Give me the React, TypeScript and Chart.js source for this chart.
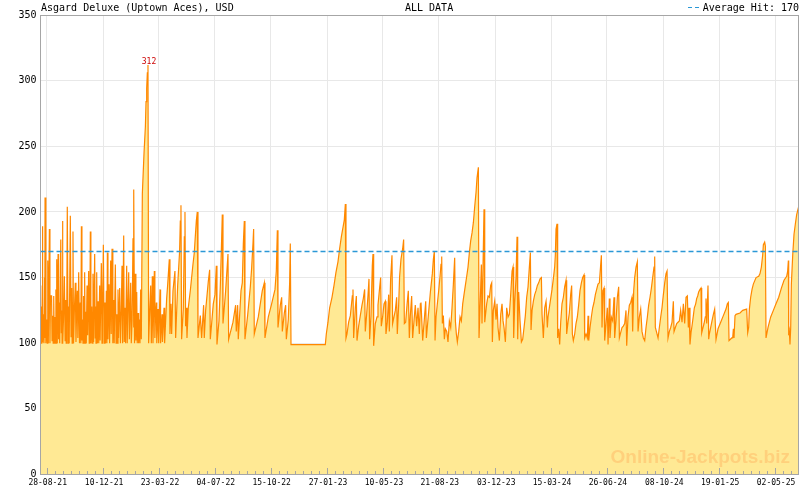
import React, { useEffect, useRef } from "react";
import { Chart, registerables } from "chart.js";

Chart.register(...registerables);

// ---- texts ----
const chartTitle = "Asgard Deluxe (Uptown Aces), USD";
const periodLabel = "ALL DATA";
const averageLabel = "Average Hit: ";
const averageHit = 170;
const watermark = "Online-Jackpots.biz";

// ---- axes ----
const xTickLabels = [
  "28-08-21", "10-12-21", "23-03-22", "04-07-22", "15-10-22", "27-01-23", "10-05-23",
  "21-08-23", "03-12-23", "15-03-24", "26-06-24", "08-10-24", "19-01-25", "02-05-25",
];
const X_MIN = -11.4; // days from 28-08-21
const X_MAX = 1387.2;
const Y_MIN = 0;
const Y_MAX = 350;
const Y_STEP = 50;

// ---- jackpot history: [days since 28-08-21, value USD] ----
const seriesPart1: [number, number][] = [
  [-11, 144], [-10, 100], [-9, 128], [-8.5, 101], [-8, 189], [-7, 101], [-6, 122], [-5, 100], [-4, 150], [-3.5, 104],
  [-3, 211], [-1.5, 100], [0, 118], [1, 100], [2, 163], [3, 100], [5, 187], [6, 100], [7, 136], [9, 136],
  [10, 102], [11, 121], [12, 100], [13, 136], [14, 100], [15, 120], [16, 100], [17, 141], [17.5, 100], [18.5, 164],
  [19.5, 100], [21, 168], [22, 103], [23, 131], [24, 100], [26, 179], [27, 108], [28, 125], [28.5, 100], [29, 193],
  [30, 100], [31, 118], [32.6, 151], [34, 102], [35, 133], [36, 100], [37, 119], [38, 204], [39.5, 100], [40.5, 128],
  [41.5, 100], [43.6, 197], [45, 105], [46, 142], [47, 100], [48.5, 185], [49.5, 100], [51, 124], [52.8, 146], [54, 101],
  [55, 120], [56.5, 140], [57.5, 104], [59, 154], [60.5, 100], [62, 131], [63, 100], [64, 189], [65, 102], [66, 118],
  [67, 100], [68, 136], [69, 100], [70, 154], [71, 100], [72, 124], [73, 100], [74.4, 144], [75.5, 106], [77.4, 155],
  [78.5, 100], [79.5, 112], [80.5, 185], [81.5, 100], [83, 128], [84, 100], [85.4, 153], [86.5, 101], [88.5, 168], [89.5, 104],
  [90.5, 128], [91, 100], [92.2, 154], [93.5, 100], [95, 132], [96, 100], [97.7, 144], [98.5, 102], [100.8, 161], [102, 100],
  [103, 122], [104.5, 175], [106, 100], [107.5, 131], [108.5, 100], [110, 140], [111, 100], [111.9, 169], [113, 103], [114.9, 145],
  [116, 100], [118, 163], [119, 107], [120.5, 172], [122, 100], [123.5, 133], [124.5, 100], [126.6, 160], [128, 100], [129.5, 122],
  [130.5, 100], [131.5, 141], [132.5, 104], [134.6, 142], [136, 100], [137.5, 124], [138.9, 159], [140, 100], [142, 182], [143, 101],
  [144.5, 127], [145.5, 100], [147.5, 159], [148.5, 100], [151.2, 154], [152.5, 103], [154.9, 146], [156, 100], [157.5, 118], [159.2, 180],
  [160, 112], [161, 217], [162, 100], [163.5, 153], [164.5, 102], [166, 139], [167, 100], [168.4, 123], [169.5, 100], [171, 118],
  [172, 100], [173.3, 141], [174.5, 103], [176.4, 214], [179.5, 245], [182, 265], [183.2, 284], [184.4, 294], [185.6, 306], [186.8, 312],
  [188, 100], [190, 125], [191.8, 144], [193, 100], [194.8, 151], [196, 100], [198.5, 155], [199.5, 104], [200.5, 118], [202.2, 131],
  [203, 100], [205.3, 126], [206.5, 100], [207.5, 118], [209, 141], [210, 100], [212.7, 122], [213.5, 101], [216.4, 127], [217.5, 100],
];

const seriesPart2: [number, number][] = [
  [221.2, 134], [223, 144], [226.1, 164], [227.3, 107], [229.2, 130], [230.4, 107], [232.9, 140], [236.5, 155], [237.8, 104], [241.5, 144],
  [245.1, 170], [246.4, 193], [247.6, 205], [248.8, 103], [251.9, 126], [253.8, 181], [255, 200], [256.2, 113], [257.4, 127], [258.7, 104],
  [261.1, 127], [264.8, 140], [269.7, 160], [272.2, 169], [274, 181], [275.9, 193], [277.7, 200], [279, 104], [283.3, 121], [285.7, 104],
  [289.4, 129], [290.6, 104], [293.1, 125], [298, 147], [300.5, 156], [301.7, 103], [307.2, 130], [310.3, 137], [312.8, 159], [314, 99],
  [317.7, 117], [320.1, 143], [322.6, 179], [323.8, 198], [325.1, 115], [330, 140], [334.3, 168], [335.5, 103], [343.5, 116], [348.4, 129],
  [349.6, 109], [352.1, 129], [353.3, 103], [358.3, 140], [360.7, 146], [362.6, 176], [364.4, 193], [365.6, 103], [370.5, 121], [375.5, 143],
  [377.9, 157], [380.4, 176], [381.6, 187], [382.8, 107], [390.2, 120], [397.6, 140], [401.3, 146], [402.5, 104], [408.7, 120], [414.8, 130],
  [421, 141], [423.4, 155], [425.3, 186], [426.5, 112], [430.8, 129], [433.3, 135], [434.5, 109], [438.2, 123], [440.6, 129], [441.9, 103],
  [445.5, 118], [448, 146], [449.2, 176], [450.5, 99],
];

const seriesPart3: [number, number][] = [
  [513.8, 99], [515.6, 107], [518.7, 116], [521.8, 127], [526.1, 135], [529.8, 144], [533.4, 154], [537.1, 162], [540.2, 172], [543.3, 181],
  [546.3, 188], [548.8, 194], [550.7, 206], [551.9, 104], [553.7, 107], [556.8, 116], [559.9, 121], [563.6, 136], [564.8, 141], [566, 104],
  [569.1, 127], [571, 136], [572.2, 102], [575.2, 113], [578.3, 121], [581.4, 129], [583.8, 134], [586.3, 141], [587.5, 109], [590, 122],
  [592.4, 136], [594.3, 149], [595.5, 103], [598, 121], [600.4, 159], [601.7, 168], [602.9, 98], [606, 115], [609.1, 120], [610.9, 129],
  [613.4, 140], [615.8, 150], [617, 113], [619.5, 120], [622, 130], [624.4, 132], [625.6, 107], [628.1, 116], [630.6, 137], [631.8, 109],
  [634.2, 149], [636.7, 167], [637.9, 115], [640.4, 120], [642.9, 125], [645.3, 135], [646.5, 107], [649, 129], [650.8, 151], [653.3, 164],
  [656.4, 172], [658.2, 179], [659.5, 115], [661.9, 116], [664.4, 129], [666.8, 140], [668.7, 104], [670.5, 121], [673, 136], [674.8, 104],
  [677.3, 117], [679.7, 129], [682.2, 113], [684.7, 127], [687.1, 107], [689, 130],
];

const seriesPart4: [number, number][] = [
  [690.2, 131], [693.3, 102], [698.9, 132], [700.1, 104], [707.5, 139], [711.1, 153], [713, 164], [714.8, 170], [716.1, 102], [717.9, 120],
  [722.8, 140], [725.3, 151], [727.1, 160], [728.4, 166], [729.6, 115], [731.4, 121], [733.3, 103], [735.1, 111], [737.6, 109], [740, 101],
  [742.5, 117], [745, 112], [747.4, 127], [749.9, 145], [752.3, 165], [753.6, 117], [755.4, 107], [757.2, 101], [759.7, 109], [762.2, 120],
  [764.6, 117], [767.1, 130], [769.5, 137], [772, 144], [774.5, 151], [776.9, 158], [779.4, 169], [781.8, 178], [784.3, 184], [786.8, 192],
  [789.2, 204], [791.7, 215], [793.5, 226], [796, 234], [797.2, 104], [799.1, 127], [801.5, 160], [802.7, 115], [806.4, 202], [807.7, 116],
  [811.3, 130], [813.8, 136], [816.3, 135], [818.7, 144], [820.6, 146], [821.8, 101], [823.6, 125], [826.1, 132], [828.6, 118], [830.4, 130],
  [832.2, 112], [834.7, 102], [837.2, 122], [839.6, 130], [841.5, 117], [843.3, 112], [845.8, 101], [848.2, 127], [850.7, 120], [853.1, 122],
  [855.6, 137], [858.1, 155], [859.9, 158], [861.1, 104], [863, 130], [865.4, 150], [867.3, 181], [868.5, 103], [870.3, 139], [872.8, 117],
  [875.3, 101], [877.7, 103], [880.2, 112], [882.6, 121], [885.1, 135], [887.6, 143], [890, 158], [891.9, 169], [893.1, 110], [895, 125],
  [897.4, 132], [899.9, 137], [902.3, 140], [904.8, 144], [907.2, 146], [909.7, 149], [912.2, 150], [913.4, 122], [915.8, 104], [918.3, 127],
  [920.8, 132], [923.2, 112],
];

const seriesPart5: [number, number][] = [
  [924.4, 120], [929.3, 134], [931.8, 141], [934.2, 149], [936.7, 158], [937.9, 167], [939.2, 187], [941, 191], [942.2, 104], [944.1, 111],
  [945.9, 99], [947.8, 116], [950.2, 130], [952.7, 135], [955.1, 143], [957.6, 148], [958.8, 107], [961.3, 116], [963.7, 123], [966.2, 137],
  [968, 144], [969.3, 107], [971.1, 102], [973.6, 107], [976, 115], [978.5, 120], [980.9, 129], [983.4, 140], [985.9, 146], [988.3, 150],
  [990.8, 152], [992, 104], [994.5, 107], [996.9, 104], [998.2, 121], [999.4, 102], [1001.9, 112], [1004.3, 120], [1006.8, 127], [1009.2, 131],
  [1011.7, 137], [1014.1, 141], [1016.6, 145], [1019.1, 146], [1022.8, 167], [1024, 112], [1025.8, 140], [1027.7, 142], [1028.9, 102], [1031.4, 115],
  [1033.8, 127], [1035.1, 99], [1037.5, 134], [1038.7, 104], [1041.2, 120], [1043.7, 117], [1046.1, 135], [1047.3, 104], [1049.8, 117], [1052.3, 135],
  [1054.7, 143], [1056, 104], [1058.4, 108], [1060.9, 112], [1063.3, 113], [1065.8, 115], [1068.2, 125], [1069.5, 98], [1071.9, 120], [1074.4, 129],
  [1076.9, 131], [1079.3, 135], [1080.5, 109], [1082.4, 140], [1084.2, 150], [1086.7, 158], [1089.1, 162], [1090.4, 109], [1092.8, 120], [1095.3, 126],
  [1097.7, 109], [1100.2, 104], [1102.7, 102], [1105.1, 112], [1107.6, 120], [1110, 129], [1112.5, 135], [1115, 142], [1117.4, 150], [1119.9, 158],
  [1121.1, 166], [1122.3, 112], [1124.8, 108], [1127.3, 104], [1129.7, 112], [1132.2, 120], [1134.6, 127], [1137.1, 137], [1139.6, 146], [1142, 153],
  [1143.9, 155], [1145.7, 104], [1148.2, 109], [1150.6, 112], [1153.1, 116], [1155.5, 132], [1156.8, 109], [1159.2, 112], [1161.7, 115], [1164.1, 116],
  [1166.6, 117], [1169, 125], [1171.5, 116], [1174, 130], [1176.4, 115], [1178.9, 135], [1181.3, 136],
];

const seriesPart6: [number, number][] = [
  [1183.2, 112], [1184.4, 127], [1186.2, 99], [1188.1, 108], [1190.5, 115], [1192.4, 121], [1194.2, 127], [1196.7, 130], [1198.5, 134], [1200.4, 136],
  [1202.2, 139], [1204.7, 141], [1206.5, 142], [1207.8, 108], [1209.6, 111], [1212.1, 115], [1214.5, 120], [1215.7, 134], [1217, 115], [1219.4, 144],
  [1220.7, 103], [1221.9, 107], [1224.4, 112], [1226.8, 117], [1229.3, 122], [1231.7, 126], [1234.2, 103], [1237.9, 111], [1242.8, 116], [1247.7, 121],
  [1252.6, 126], [1255.1, 130], [1256.9, 131], [1258.2, 102], [1263.1, 104], [1264.9, 104], [1266.2, 111], [1267.4, 104], [1269.2, 121], [1271.1, 122],
  [1278.4, 123], [1283.4, 125], [1290.7, 126], [1292.6, 108], [1294.4, 112], [1295.7, 126], [1298.1, 135], [1300.6, 141], [1303, 145], [1308, 150],
  [1312.9, 151], [1315.3, 153], [1317.8, 158], [1320.2, 167], [1321.5, 175], [1323.9, 177], [1325.2, 174], [1326.4, 104], [1330.1, 112], [1335, 120],
  [1339.9, 125], [1344.8, 130], [1349.8, 135], [1354.7, 142], [1359.6, 148], [1364.5, 151], [1366.3, 155], [1367.6, 163], [1368.2, 106], [1369.4, 109],
  [1370.6, 99], [1371.9, 112], [1373.1, 145], [1375.6, 167], [1378, 183], [1380.5, 191], [1382.9, 198], [1386.6, 204],
];

// ---- helpers ----
const EPOCH = Date.UTC(2021, 7, 28);
function labelToDay(label: string): number {
  const [d, m, y] = label.split("-").map(Number);
  return Math.round((Date.UTC(2000 + y, m - 1, d) - EPOCH) / 86400000);
}

const MONO = '"DejaVu Sans Mono", monospace';
const AVG_COLOR = "#2B98D6";

const App: React.FC = () => {
  const canvasRef = useRef<HTMLCanvasElement | null>(null);

  useEffect(() => {
    document.body.style.margin = "0";
    const canvas = canvasRef.current;
    if (!canvas) return;

    const points = [
      ...seriesPart1, ...seriesPart2, ...seriesPart3,
      ...seriesPart4, ...seriesPart5, ...seriesPart6,
    ].map(([x, y]) => ({ x, y }));
    const majorDays = xTickLabels.map(labelToDay);
    let peak = points[0];
    points.forEach((p) => { if (p.y > peak.y) peak = p; });

    const decor = {
      id: "decor",
      afterDatasetsDraw(chart: any) {
        const { ctx, chartArea: a, scales } = chart;
        const xs = scales.x;
        const ys = scales.y;
        ctx.save();

        // average hit dashed line
        const ay = Math.round(ys.getPixelForValue(averageHit)) + 0.5;
        ctx.strokeStyle = AVG_COLOR;
        ctx.lineWidth = 1.4;
        ctx.setLineDash([5, 3]);
        ctx.beginPath();
        ctx.moveTo(a.left, ay);
        ctx.lineTo(a.right, ay);
        ctx.stroke();
        ctx.setLineDash([]);

        // watermark
        ctx.font = 'bold 19px "Liberation Sans", Arial, sans-serif';
        ctx.fillStyle = "#FFD07C";
        ctx.textAlign = "right";
        ctx.textBaseline = "alphabetic";
        ctx.fillText(watermark, 790, 463);

        // peak label
        ctx.font = `8px ${MONO}`;
        ctx.fillStyle = "#CC0000";
        ctx.textAlign = "center";
        ctx.fillText(String(peak.y), xs.getPixelForValue(peak.x) + 1, ys.getPixelForValue(peak.y) - 1);

        // tick marks (major + minor)
        ctx.strokeStyle = "#A6A6A6";
        ctx.lineWidth = 1;
        const bottom = 474;
        const drawTick = (v: number, len: number) => {
          const px = Math.round(xs.getPixelForValue(v)) + 0.5;
          if (px < a.left || px > a.right) return;
          ctx.beginPath();
          ctx.moveTo(px, bottom);
          ctx.lineTo(px, bottom - len);
          ctx.stroke();
        };
        const step = (majorDays[majorDays.length - 1] - majorDays[0]) / (majorDays.length - 1) / 7;
        for (let v = majorDays[0] - step; v >= X_MIN; v -= step) drawTick(v, 3);
        majorDays.forEach((d, i) => {
          drawTick(d, 6);
          if (i < majorDays.length - 1) {
            const s = (majorDays[i + 1] - d) / 7;
            for (let k = 1; k < 7; k++) drawTick(d + k * s, 3);
          }
        });
        for (let v = majorDays[majorDays.length - 1] + step; v <= X_MAX; v += step) drawTick(v, 3);

        // border box
        ctx.strokeStyle = "#A6A6A6";
        ctx.strokeRect(40.5, 15.5, 758, 459);

        // x tick labels
        ctx.font = `8px ${MONO}`;
        ctx.fillStyle = "#000";
        ctx.textAlign = "center";
        ctx.textBaseline = "alphabetic";
        majorDays.forEach((d, i) => {
          ctx.fillText(xTickLabels[i], xs.getPixelForValue(d) + 1, 484.5);
        });
        ctx.restore();
      },
      afterDraw(chart: any) {
        const { ctx } = chart;
        ctx.save();
        ctx.font = `10px ${MONO}`;
        ctx.fillStyle = "#000";
        ctx.textBaseline = "alphabetic";
        ctx.textAlign = "left";
        ctx.fillText(chartTitle, 41, 10.5);
        ctx.fillText(periodLabel, 405, 10.5);
        ctx.textAlign = "right";
        ctx.fillText(`${averageLabel}${averageHit}`, 799, 10.5);
        ctx.strokeStyle = AVG_COLOR;
        ctx.lineWidth = 1;
        ctx.setLineDash([4, 3]);
        ctx.beginPath();
        ctx.moveTo(688, 7.5);
        ctx.lineTo(701, 7.5);
        ctx.stroke();
        ctx.restore();
      },
    };

    const chart = new Chart(canvas, {
      type: "line",
      data: {
        datasets: [
          {
            label: "Jackpot",
            data: points,
            borderColor: "#FF8800",
            backgroundColor: "#FFE994",
            borderWidth: 1.2,
            pointRadius: 0,
            fill: "origin",
            tension: 0,
          },
        ],
      },
      options: {
        animation: false,
        responsive: false,
        maintainAspectRatio: false,
        events: [],
        layout: { padding: { top: 15, right: 1, left: 0, bottom: 0 } },
        plugins: {
          legend: { display: false },
          tooltip: { enabled: false },
          title: { display: false },
        },
        scales: {
          x: {
            type: "linear",
            min: X_MIN,
            max: X_MAX,
            afterBuildTicks: (s: any) => {
              s.ticks = majorDays.map((v) => ({ value: v }));
            },
            afterFit: (s: any) => {
              s.height = 15.5;
            },
            ticks: { display: false },
            grid: { color: "#E8E8E8", lineWidth: 1, drawTicks: false },
            border: { display: false },
          },
          y: {
            min: Y_MIN,
            max: Y_MAX,
            ticks: {
              stepSize: Y_STEP,
              color: "#000",
              padding: 4,
              font: { family: "DejaVu Sans Mono", size: 10 },
            },
            afterFit: (s: any) => {
              s.width = 40.5;
            },
            grid: { color: "#E8E8E8", lineWidth: 1, drawTicks: false },
            border: { display: false },
          },
        },
      },
      plugins: [decor],
    } as any);

    return () => chart.destroy();
  }, []);

  return <canvas ref={canvasRef} width={800} height={490} style={{ display: "block" }} />;
};

export default App;
